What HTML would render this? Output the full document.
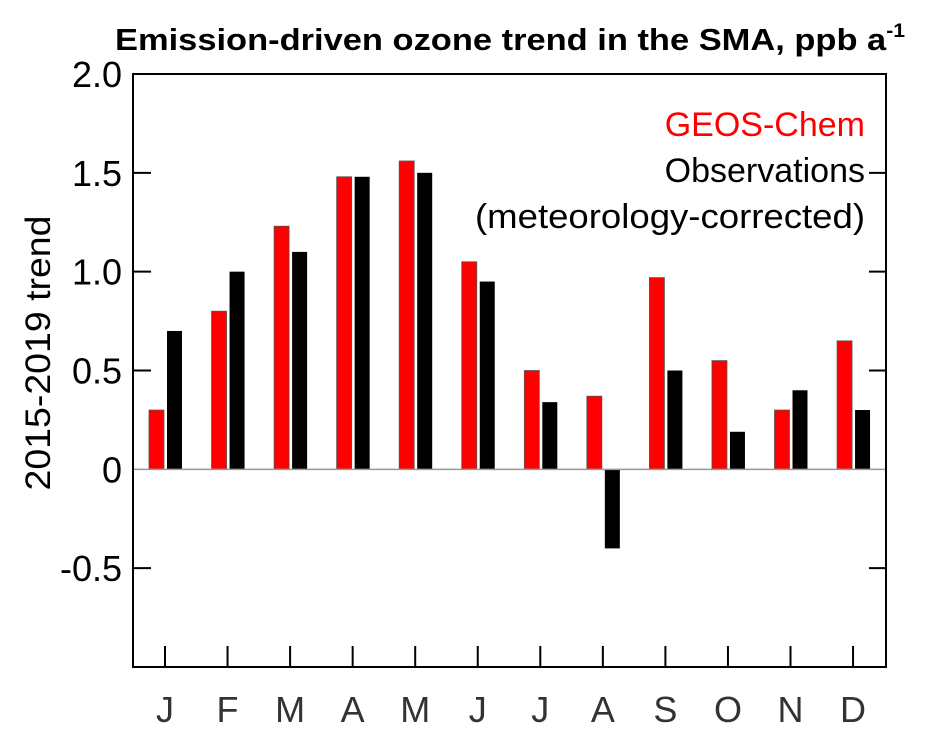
<!DOCTYPE html>
<html><head><meta charset="utf-8"><style>
body{margin:0;background:#fff;}
svg{display:block;font-family:"Liberation Sans",sans-serif;}
</style></head><body>
<svg id="chart" width="950" height="744">
<text x="510" y="50" text-anchor="middle" font-size="31" font-weight="bold" textLength="790" lengthAdjust="spacingAndGlyphs">Emission-driven ozone trend in the SMA, ppb a<tspan font-size="19" dy="-13">-1</tspan></text>
<text transform="translate(50,353) rotate(-90)" text-anchor="middle" font-size="35" textLength="275" lengthAdjust="spacingAndGlyphs">2015-2019 trend</text>
<g id="bars"></g>
<g id="axes"></g>
<text x="865" y="136" text-anchor="end" font-size="34" fill="#f00">GEOS-Chem</text>
<text x="865" y="182" text-anchor="end" font-size="34">Observations</text>
<text x="865" y="228" text-anchor="end" font-size="34" textLength="390" lengthAdjust="spacingAndGlyphs">(meteorology-corrected)</text>
</svg>
<script>
const months=["J","F","M","A","M","J","J","A","S","O","N","D"];
const geosChem=[0.30,0.80,1.23,1.48,1.56,1.05,0.50,0.37,0.97,0.55,0.30,0.65];
const observations=[0.70,1.00,1.10,1.48,1.50,0.95,0.34,-0.40,0.50,0.19,0.40,0.30];
const yTicks=[2.0,1.5,1.0,0.5,0,-0.5];
const yTickLabels=["2.0","1.5","1.0","0.5","0","-0.5"];
const NS="http://www.w3.org/2000/svg";
const L=133,R=886,T=74,B=667,yMin=-1,yMax=2;
const y=v=>B-(v-yMin)/(yMax-yMin)*(B-T);
const xc=i=>165+i*62.55;
const bars=document.getElementById('bars'),axes=document.getElementById('axes');
function mk(tag,attrs,parent){const e=document.createElementNS(NS,tag);for(const k in attrs)e.setAttribute(k,attrs[k]);parent.appendChild(e);return e;}
months.forEach((m,i)=>{
 const g=geosChem[i],o=observations[i];
 const r=mk('rect',{x:xc(i)-16,y:Math.min(y(g),y(0)),width:15,height:Math.abs(y(g)-y(0)),fill:'#f00',stroke:'#555','stroke-width':0.8},bars);
 
 
 const b=mk('rect',{x:xc(i)+2,y:Math.min(y(o),y(0)),width:15,height:Math.abs(y(o)-y(0)),fill:'#000'},bars);
 
 
 const t=mk('line',{x1:xc(i),x2:xc(i),y1:B,y2:B-21,stroke:'#000','stroke-width':2},axes);
 
 
 const lb=mk('text',{x:xc(i),y:722,'text-anchor':'middle','font-size':36,fill:'#333'},axes);
 lb.textContent=m;
 
 
});
const zl=mk('line',{x1:L,x2:R,y1:y(0),y2:y(0),stroke:'#999','stroke-width':1.5},axes);


yTicks.forEach((v,i)=>{
 if(v!==0&&v!==2){
  const a=mk('line',{x1:L,x2:L+18,y1:y(v),y2:y(v),stroke:'#000','stroke-width':2},axes);
  
  
  const c=mk('line',{x1:R-17,x2:R,y1:y(v),y2:y(v),stroke:'#000','stroke-width':2},axes);
  
  
 }
 const t=mk('text',{x:122,y:y(v)+13,'text-anchor':'end','font-size':36},axes);
 t.textContent=yTickLabels[i];
 
 
});
const fr=mk('rect',{x:L,y:T,width:R-L,height:B-T,fill:'none',stroke:'#000','stroke-width':2},axes);


</script>
</body></html>
